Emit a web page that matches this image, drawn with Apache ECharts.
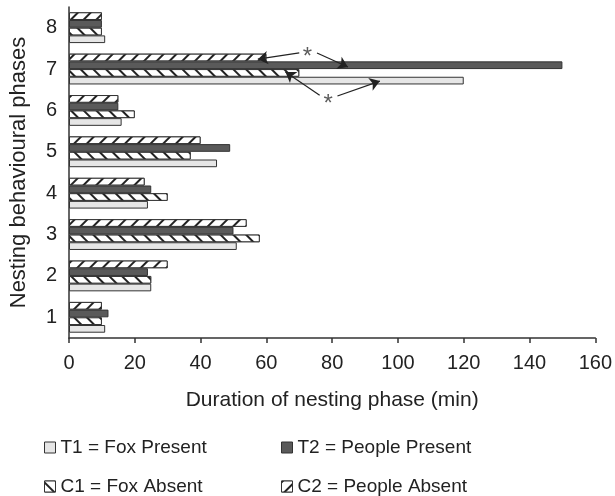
<!DOCTYPE html>
<html>
<head>
<meta charset="utf-8">
<script src="https://cdn.jsdelivr.net/npm/echarts@6/dist/echarts.min.js"></script>
<style>
  html, body { margin: 0; padding: 0; background: #fff; }
  #chart { width: 615px; height: 496px; }
</style>
</head>
<body>
<div id="chart"></div>
<script>
// nesting phases 1..8 (bottom to top)
const phases = ['1', '2', '3', '4', '5', '6', '7', '8'];

// duration (min) per phase
const t1FoxPresent = [11, 25, 51, 24, 45, 16, 120, 11];
const c1FoxAbsent = [10, 25, 58, 30, 37, 20, 70, 10];
const t2PeoplePresent = [12, 24, 50, 25, 49, 15, 150, 10];
const c2PeopleAbsent = [10, 30, 54, 23, 40, 15, 60, 10];

const xTicks = [0, 20, 40, 60, 80, 100, 120, 140, 160];

// significance marks: [duration, phase position]
const stars = [[72.5, 7.41], [78.8, 6.26]];
// arrows from a star to a bar: [from, to]
const arrows = [
  [[70.0, 7.39], [57.4, 7.24]],
  [[75.4, 7.39], [84.8, 7.05]],
  [[76.2, 6.37], [65.8, 6.93]],
  [[81.6, 6.35], [94.5, 6.71]]
];

const font = 'Liberation Sans, Arial, sans-serif';
const ink = '#333';

function hatch(rotation) {
  return {
    symbol: 'rect',
    symbolSize: 1,
    color: '#222',
    backgroundColor: '#fff',
    dashArrayX: [1, 0],
    dashArrayY: [1.4, 7],
    rotation: rotation
  };
}

function barSeries(name, data, color, decal) {
  const itemStyle = { color: color, borderColor: ink, borderWidth: 1 };
  if (decal) itemStyle.decal = decal;
  return {
    name: name,
    type: 'bar',
    data: data,
    barWidth: 7.7,
    barGap: '0%',
    itemStyle: itemStyle,
    emphasis: { disabled: true }
  };
}

const legendText = { fontFamily: font, fontSize: 19, color: '#222' };
function legendAt(name, left, top) {
  return {
    data: [{ name: name, icon: 'rect' }], left: left, top: top,
    itemWidth: 11, itemHeight: 11, itemGap: 0,
    textStyle: legendText,
    itemStyle: { borderColor: ink, borderWidth: 1 }
  };
}

const chart = echarts.init(document.getElementById('chart'));

const option = {
  animation: false,
  grid: { left: 67, right: 18, top: 7, bottom: 158 },
  legend: [
    legendAt('T1 = Fox Present', 39, 433),
    legendAt('T2 = People Present', 276, 433),
    legendAt('C1 = Fox Absent', 39, 472),
    legendAt('C2 = People Absent', 276, 472)
  ],
  xAxis: {
    type: 'value',
    min: xTicks[0],
    max: xTicks[xTicks.length - 1],
    interval: 20,
    name: 'Duration of nesting phase (min)',
    nameLocation: 'middle',
    nameGap: 52,
    nameTextStyle: { fontFamily: font, fontSize: 21, color: '#222' },
    axisLine: { show: true, lineStyle: { color: ink, width: 1.5 } },
    axisTick: { show: true, length: 5, lineStyle: { color: ink, width: 1.5 } },
    axisLabel: { fontFamily: font, fontSize: 20, color: '#222', margin: 15 },
    splitLine: { show: false }
  },
  yAxis: [
    {
      type: 'category',
      data: phases,
      name: 'Nesting behavioural phases',
      nameLocation: 'middle',
      nameGap: 39,
      nameTextStyle: { fontFamily: font, fontSize: 22, color: '#222' },
      axisLine: { lineStyle: { color: ink, width: 1.5 } },
      axisTick: { length: 5, lineStyle: { color: ink, width: 1.5 } },
      axisLabel: { fontFamily: font, fontSize: 20, color: '#222', margin: 12, padding: [0, 0, 5, 0] }
    },
    { type: 'value', min: 0.5, max: 8.5, show: false }
  ],
  series: [
    // first series is drawn at the top of each phase band
    barSeries('C2 = People Absent', c2PeopleAbsent, '#fff', hatch(-Math.PI / 4)),
    barSeries('T2 = People Present', t2PeoplePresent, '#5a5a5a'),
    barSeries('C1 = Fox Absent', c1FoxAbsent, '#fff', hatch(Math.PI / 4)),
    barSeries('T1 = Fox Present', t1FoxPresent, '#e6e6e6'),
    {
      name: 'stars',
      type: 'scatter',
      xAxisIndex: 0,
      yAxisIndex: 1,
      data: stars,
      symbolSize: 1,
      itemStyle: { color: 'rgba(0,0,0,0)' },
      label: {
        show: true, position: 'inside', formatter: '*',
        fontFamily: font, fontSize: 24, color: '#333', offset: [0, 5]
      },
      silent: true,
      markLine: {
        silent: true,
        symbol: ['none', 'arrow'],
        symbolSize: 10,
        lineStyle: { color: '#222', width: 1.2, type: 'solid' },
        label: { show: false },
        data: arrows.map(a => [{ coord: a[0] }, { coord: a[1] }])
      }
    }
  ]
};

chart.setOption(option);
</script>
</body>
</html>
